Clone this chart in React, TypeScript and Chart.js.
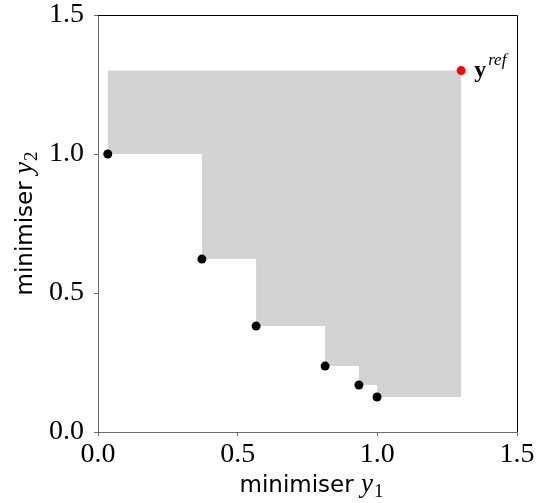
import React, { useEffect, useRef } from "react";
import { Chart, registerables } from "chart.js";

Chart.register(...registerables);

const paretoY1 = [0.035, 0.372, 0.566, 0.813, 0.934, 0.999];
const paretoY2 = [1.0, 0.622, 0.381, 0.237, 0.169, 0.126];
const refPoint = { x: 1.3, y: 1.3 };
const tickValues = [0, 0.5, 1.0, 1.5];
const xLabel = { text: "minimiser ", sym: "y", sub: "1" };
const yLabel = { text: "minimiser ", sym: "y", sub: "2" };
const refLabel = { sym: "y", sup: "ref" };

const SERIF = "'Liberation Serif', 'DejaVu Serif', serif";
const SANS = "'DejaVu Sans', sans-serif";
const SPINE = "#6e6e6e";

function buildRegion() {
  const pts: { x: number; y: number }[] = [];
  pts.push({ x: paretoY1[0], y: refPoint.y });
  for (let i = 0; i < paretoY1.length; i++) {
    pts.push({ x: paretoY1[i], y: paretoY2[i] });
    const nx = i < paretoY1.length - 1 ? paretoY1[i + 1] : refPoint.x;
    pts.push({ x: nx, y: paretoY2[i] });
  }
  pts.push({ x: refPoint.x, y: refPoint.y });
  pts.push({ x: paretoY1[0], y: refPoint.y });
  return pts;
}

function drawLabel(ctx: CanvasRenderingContext2D, lab: { text: string; sym: string; sub: string }) {
  const sansFont = `23px ${SANS}`;
  const symFont = `italic 27px ${SERIF}`;
  const subFont = `19px ${SERIF}`;
  ctx.font = sansFont;
  const w1 = ctx.measureText(lab.text).width;
  ctx.font = symFont;
  const w2 = ctx.measureText(lab.sym).width;
  ctx.font = subFont;
  const w3 = ctx.measureText(lab.sub).width;
  const total = w1 + w2 + 1 + w3;
  let x = -total / 2;
  ctx.textBaseline = "alphabetic";
  ctx.textAlign = "left";
  ctx.fillStyle = "#000";
  ctx.font = sansFont;
  ctx.fillText(lab.text, x, 0);
  x += w1;
  ctx.font = symFont;
  ctx.fillText(lab.sym, x, 0);
  x += w2 + 1;
  ctx.font = subFont;
  ctx.fillText(lab.sub, x, 5);
}

const decorPlugin = {
  id: "decor",
  afterDraw(chart: any) {
    const { ctx, chartArea, scales } = chart;
    ctx.save();
    ctx.strokeStyle = "#000";
    ctx.lineWidth = 1;
    ctx.beginPath();
    ctx.moveTo(chartArea.left, chartArea.top + 0.5);
    ctx.lineTo(chartArea.right + 0.5, chartArea.top + 0.5);
    ctx.lineTo(chartArea.right + 0.5, chartArea.bottom);
    ctx.stroke();

    ctx.save();
    ctx.translate((chartArea.left + chartArea.right) / 2 + 4, 492);
    drawLabel(ctx, xLabel);
    ctx.restore();

    ctx.save();
    ctx.translate(32, (chartArea.top + chartArea.bottom) / 2);
    ctx.rotate(-Math.PI / 2);
    drawLabel(ctx, yLabel);
    ctx.restore();

    const px = scales.x.getPixelForValue(refPoint.x);
    const py = scales.y.getPixelForValue(refPoint.y);
    ctx.fillStyle = "#000";
    ctx.textAlign = "left";
    ctx.textBaseline = "alphabetic";
    ctx.font = `bold 24px ${SERIF}`;
    ctx.fillText(refLabel.sym, px + 13, py + 6);
    const w = ctx.measureText(refLabel.sym).width;
    ctx.font = `italic 17px ${SERIF}`;
    ctx.fillText(refLabel.sup, px + 13 + w + 2, py - 6);
    ctx.restore();
  },
};

export default function App() {
  const ref = useRef<HTMLCanvasElement | null>(null);
  useEffect(() => {
    if (!ref.current) return;
    const chart = new Chart(ref.current, {
      type: "scatter",
      data: {
        datasets: [
          {
            label: "ref",
            data: [refPoint],
            backgroundColor: "#ff0000",
            borderColor: "#ff0000",
            pointRadius: 4.5,
            pointBorderWidth: 0,
          },
          {
            label: "pareto",
            data: paretoY1.map((x, i) => ({ x, y: paretoY2[i] })),
            backgroundColor: "#000",
            borderColor: "#000",
            pointRadius: 4.5,
            pointBorderWidth: 0,
          },
          {
            label: "region",
            data: buildRegion(),
            showLine: true,
            fill: "shape",
            backgroundColor: "#d3d3d3",
            borderColor: "#d3d3d3",
            borderWidth: 0,
            pointRadius: 0,
            tension: 0,
          } as any,
        ],
      },
      options: {
        responsive: false,
        animation: false,
        layout: { padding: { top: 15, right: 19, left: 0, bottom: 0 } },
        plugins: { legend: { display: false }, tooltip: { enabled: false } },
        scales: {
          x: {
            type: "linear",
            min: 0,
            max: 1.5,
            afterBuildTicks: (s: any) => {
              s.ticks = tickValues.map((v) => ({ value: v }));
            },
            afterFit: (s: any) => {
              s.height = 71;
              s.paddingLeft = 0;
              s.paddingRight = 0;
            },
            ticks: {
              callback: (v: any) => Number(v).toFixed(1),
              font: { family: SERIF, size: 28, lineHeight: 1 },
              color: "#000",
              padding: 5,
              maxRotation: 0,
            },
            grid: { drawOnChartArea: false, drawTicks: true, tickLength: 4, color: SPINE },
            border: { display: true, color: SPINE, width: 1 },
          },
          y: {
            type: "linear",
            min: 0,
            max: 1.5,
            afterBuildTicks: (s: any) => {
              s.ticks = tickValues.map((v) => ({ value: v }));
            },
            afterFit: (s: any) => {
              s.width = 98;
              s.paddingTop = 0;
              s.paddingBottom = 0;
            },
            ticks: {
              callback: (v: any) => Number(v).toFixed(1),
              font: { family: SERIF, size: 28, lineHeight: 1 },
              color: "#000",
              padding: 10,
            },
            grid: { drawOnChartArea: false, drawTicks: true, tickLength: 4, color: SPINE },
            border: { display: true, color: SPINE, width: 1 },
          },
        },
      },
      plugins: [decorPlugin],
    } as any);
    return () => chart.destroy();
  }, []);
  return (
    <div style={{ position: "absolute", left: 0, top: 0, width: 536, height: 503 }}>
      <canvas ref={ref} width={536} height={503} style={{ width: 536, height: 503 }} />
    </div>
  );
}
